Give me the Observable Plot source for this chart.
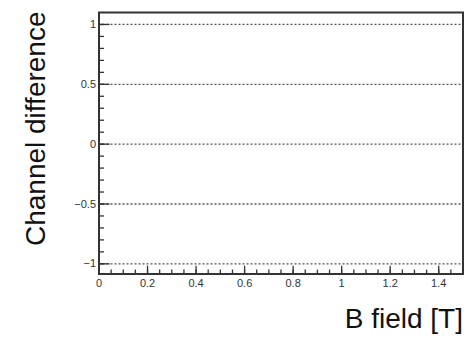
<!DOCTYPE html>
<html><head><meta charset="utf-8">
<script src="https://cdn.jsdelivr.net/npm/d3@7"></script>
<script src="https://cdn.jsdelivr.net/npm/@observablehq/plot@0.6"></script>
<style>body{margin:0;background:#fff}</style>
</head><body><div id="chart"></div>
<script>
const xTitle = "B field [T]";
const yTitle = "Channel difference";
const xMajorTicks = [0, 0.2, 0.4, 0.6, 0.8, 1, 1.2, 1.4];
const xTickLabels = ["0", "0.2", "0.4", "0.6", "0.8", "1", "1.2", "1.4"];
const yMajorTicks = [-1, -0.5, 0, 0.5, 1];
const yTickLabels = ["\u22121", "\u22120.5", "0", "0.5", "1"];
const gridLines = [-1, -0.5, 0, 0.5, 1];
const xDomain = [0, 1.5];
const yDomain = [-1.085, 1.1];
const xMinorTicks = d3.range(0, 31).map(i => i * 0.05);
const yMinorTicks = d3.range(-10, 11).map(i => i / 10);

const W = 470, H = 337;
const mL = 98.5, mR = 7.5, mT = 12, mB = 63.5;
const fw = W - mL - mR, fh = H - mT - mB;
const axisColor = "#333";

const chart = Plot.plot({
  width: W, height: H,
  marginLeft: mL, marginRight: mR, marginTop: mT, marginBottom: mB,
  style: {fontFamily: "'Liberation Sans', Arial, sans-serif", background: "#fff"},
  x: {domain: xDomain},
  y: {domain: yDomain},
  marks: [
    Plot.ruleY(gridLines, {y: d => d, stroke: "#555", strokeWidth: 1.3, strokeDasharray: "2,2"}),
    Plot.ruleX(xMinorTicks, {x: d => d, insetTop: fh - 3.9, stroke: axisColor, strokeWidth: 1.3}),
    Plot.ruleX(xMajorTicks, {x: d => d, insetTop: fh - 7.8, stroke: axisColor, strokeWidth: 1.3}),
    Plot.ruleY(yMinorTicks, {y: d => d, insetRight: fw - 5.5, stroke: axisColor, strokeWidth: 1.3}),
    Plot.ruleY(yMajorTicks, {y: d => d, insetRight: fw - 11, stroke: axisColor, strokeWidth: 1.3}),
    Plot.axisX(xMajorTicks, {tickSize: 0, tickPadding: 5, fontSize: 11, fill: "#333", label: null,
      tickFormat: d => xTickLabels[xMajorTicks.indexOf(d)]}),
    Plot.axisY(yMajorTicks, {tickSize: 0, tickPadding: 3, fontSize: 11, fill: "#333", label: null,
      tickFormat: d => yTickLabels[yMajorTicks.indexOf(d)]}),
    Plot.frame({stroke: axisColor, strokeWidth: 2}),
    Plot.text([xTitle], {text: d => d, frameAnchor: "bottom-right", textAnchor: "end", lineAnchor: "bottom",
      dx: 0, dy: 53.5, fontSize: 28, fill: "#111"}),
    Plot.text([yTitle], {text: d => d, frameAnchor: "top-left", rotate: -90, textAnchor: "end", lineAnchor: "bottom",
      dx: -54.5, dy: -1, fontSize: 28, fill: "#111"})
  ]
});
document.getElementById("chart").appendChild(chart);
</script>
</body></html>
